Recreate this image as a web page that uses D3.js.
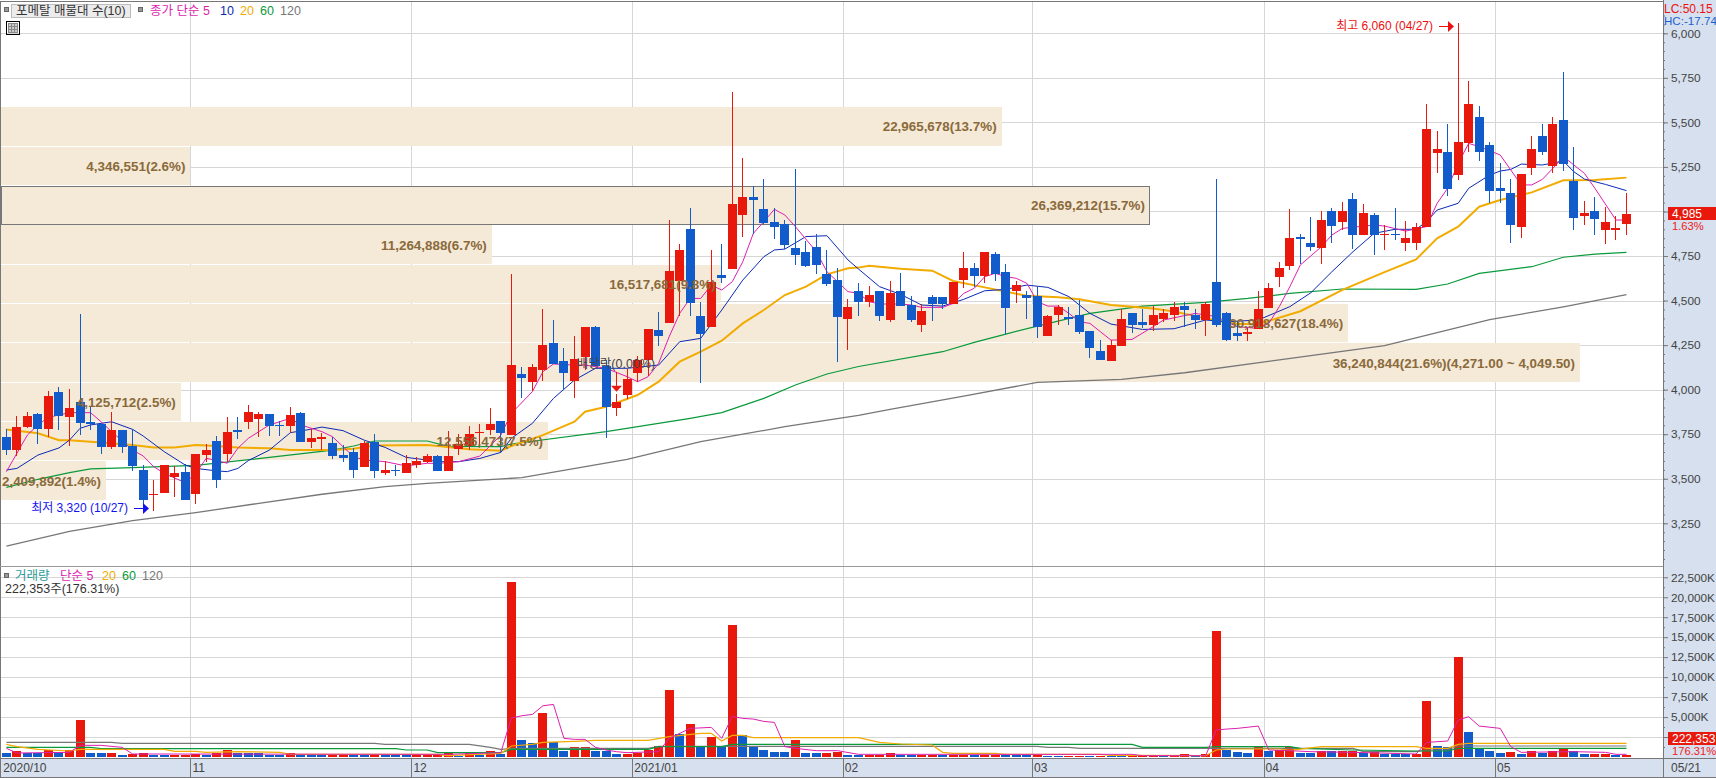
<!DOCTYPE html>
<html>
<head>
<meta charset="utf-8">
<script src="https://cdn.jsdelivr.net/npm/d3@7/dist/d3.min.js"></script>
<style>
html, body { margin: 0; padding: 0; background: #fff; overflow: hidden; }
svg { display: block; }
text { font-family: "Liberation Sans", "Noto Sans CJK KR", sans-serif; }
</style>
</head>
<body>
<div id="chart"></div>
<script>
const width = 1716, height = 778;

// daily prices (2020/10/06 ~ 2021/05/21)
const opens = [3735,3660,3790,3865,3780,3985,3845,3930,3820,3810,3680,3775,3685,3550,3410,3420,3510,3540,3415,3635,
  3710,3640,3775,3820,3835,3865,3800,3795,3870,3705,3725,3700,3635,3650,3565,3705,3530,3550,3530,3575,
  3595,3630,3545,3665,3685,3760,3775,3825,3745,4090,4045,4110,4260,4160,4050,4185,4350,4135,3895,3970,
  4095,4165,4335,4375,4610,4900,4415,4350,4645,4675,4980,5080,5015,4940,4930,4795,4775,4800,4650,4615,
  4395,4555,4490,4555,4390,4555,4475,4365,4520,4520,4480,4615,4685,4640,4760,4660,4555,4530,4525,4300,
  4420,4410,4420,4330,4215,4160,4245,4430,4380,4365,4395,4420,4470,4420,4390,4605,4430,4320,4310,4340,
  4460,4630,4695,4855,4825,4795,5005,4940,5070,4870,4980,4870,4875,4825,4825,4915,5330,5335,5205,5385,
  5530,5375,5130,5105,4915,5245,5425,5255,5515,5170,4975,5005,4895,4895,4930];
const highs = [3780,3850,3875,3870,3995,4015,4005,4425,3905,3815,3875,3775,3780,3575,3495,3575,3570,3585,3640,3695,
  3740,3845,3845,3915,3875,3865,3825,3905,3875,3780,3755,3735,3690,3675,3710,3750,3600,3575,3635,3620,
  3640,3635,3770,3750,3795,3810,3895,3825,4650,4125,4145,4455,4390,4235,4300,4350,4355,4165,3975,4115,
  4190,4340,4435,4950,4820,5020,4490,4785,4820,5670,5300,5145,5180,5020,4950,5240,4835,4875,4785,4685,
  4510,4600,4580,4555,4610,4655,4525,4480,4530,4520,4605,4770,4710,4770,4770,4705,4610,4555,4575,4420,
  4475,4465,4505,4330,4280,4280,4455,4430,4455,4470,4455,4490,4490,4455,4490,5180,4435,4380,4345,4555,
  4600,4715,5015,4875,4970,5005,5020,5055,5105,5040,4990,4925,5020,4945,4935,5605,5450,5490,6060,5730,
  5590,5390,5270,5180,5210,5425,5490,5530,5785,5360,5060,5080,5025,4975,5105];
const lows = [3635,3630,3785,3695,3735,3775,3685,3745,3775,3640,3665,3645,3545,3360,3320,3420,3400,3380,3360,3595,
  3450,3595,3725,3780,3735,3740,3740,3755,3705,3675,3660,3610,3595,3505,3565,3505,3520,3515,3530,3560,
  3590,3545,3545,3635,3660,3695,3745,3650,3745,3955,3990,4050,4145,4000,3955,4110,4130,3730,3850,3945,
  4045,4075,4245,4375,4415,4415,4035,4350,4600,4675,4855,4875,4930,4845,4790,4700,4690,4650,4580,4155,
  4220,4415,4465,4385,4380,4470,4380,4325,4385,4455,4480,4570,4575,4600,4610,4310,4485,4395,4290,4300,
  4365,4365,4310,4175,4165,4160,4245,4320,4345,4330,4380,4385,4350,4340,4300,4350,4275,4275,4275,4340,
  4460,4575,4670,4705,4780,4705,4825,4895,4790,4870,4755,4785,4840,4780,4785,4915,5215,5085,5175,5335,
  5285,5045,5045,4825,4850,5205,5315,5215,5225,4895,4925,4870,4815,4840,4870];
const closes = [3660,3790,3850,3780,3965,3850,3895,3815,3805,3680,3775,3680,3570,3380,3415,3575,3530,3380,3640,3660,
  3495,3760,3760,3875,3865,3795,3795,3860,3705,3730,3735,3630,3615,3550,3700,3545,3550,3545,3590,3600,
  3630,3545,3630,3695,3750,3765,3805,3755,4140,4065,4125,4250,4145,4095,4170,4350,4135,3905,3930,4060,
  4165,4340,4300,4665,4785,4485,4310,4605,4625,5040,5080,5065,4935,4915,4810,4755,4695,4700,4595,4410,
  4465,4490,4530,4415,4540,4470,4390,4440,4480,4480,4605,4685,4640,4770,4650,4460,4585,4515,4350,4415,
  4465,4395,4325,4235,4165,4250,4395,4365,4365,4420,4430,4465,4445,4390,4480,4365,4280,4300,4325,4455,
  4570,4685,4850,4845,4800,4950,4920,5005,4870,4990,4870,4875,4870,4850,4915,5465,5350,5125,5390,5605,
  5335,5115,5115,4925,5210,5350,5335,5490,5265,4965,4990,4960,4940,4905,4985];

// daily volume in thousands of shares
const volumes = [500,710,460,440,875,585,875,4625,500,480,500,250,375,500,290,210,250,290,375,250,
  540,875,540,460,440,250,240,540,290,250,240,300,310,260,210,270,250,240,230,240,
  250,260,540,170,460,290,750,375,21875,2125,1750,5500,1830,750,1210,1215,750,740,375,380,
  540,875,1375,8375,2875,4125,1210,2500,1375,16500,2750,1290,875,625,610,2125,500,490,500,670,
  250,240,250,255,500,250,240,250,255,240,250,255,240,250,255,240,230,220,250,170,
  160,170,180,125,130,120,110,115,125,130,120,125,375,170,375,15750,875,625,500,1250,
  750,875,1210,500,490,750,700,720,750,540,670,375,370,360,375,7000,1375,1210,12500,3125,
  1040,750,500,625,375,750,540,750,1000,750,375,380,385,200,222];

// moving averages as [day index, value]
const ma5 = [[0,3540],[2,3746],[3,3802],[4,3845],[6,3871],[8,3871],[9,3820],[10,3764],[12,3661],[13,3628],[14,3568],[15,3530],[17,3478],[18,3530],[19,3615],[20,3602],[21,3587],[22,3671],[23,3727],[25,3802],[27,3839],[28,3802],[30,3764],[31,3736],[33,3624],[34,3605],[36,3596],[38,3572],[40,3587],
  [41,3586],[43,3596],[45,3627],[47,3745],[48,3867],[50,3989],[51,4101],[52,4144],[54,4138],[55,4138],[57,4120],[59,4073],[60,4045],[61,4073],[62,4148],[63,4297],[64,4428],[65,4512],[66,4512],[67,4587],[68,4559],[69,4606],[70,4718],[71,4877],[72,4943],[73,5012],[74,4980],[75,4915],[77,4774],[78,4662],[80,4550],[81,4541],
  [82,4494],[83,4481],[85,4481],[86,4475],[87,4462],[89,4462],[90,4484],[91,4540],[92,4569],[93,4634],[94,4653],[95,4634],[96,4625],[97,4597],[98,4494],[99,4469],[100,4469],[101,4428],[102,4381],[103,4372],[104,4325],[105,4278],[107,4282],[109,4353],[110,4391],[113,4428],[115,4410],[117,4353],[119,4344],[120,4372],[121,4466],[122,4578],
  [123,4700],[125,4802],[126,4868],[127,4905],[130,4924],[131,4918],[133,4890],[135,4915],[136,5046],[137,5130],[138,5270],[139,5382],[140,5364],[142,5317],[143,5233],[144,5149],[145,5149],[146,5180],[147,5242],[148,5308],[150,5214],[151,5130],[153,4952],[154,4952]];
const ma10 = [[0,3549],[1,3558],[3,3633],[5,3673],[6,3717],[7,3783],[8,3802],[10,3820],[12,3777],[13,3740],[15,3652],[17,3577],[18,3558],[20,3544],[21,3540],[22,3558],[23,3602],[25,3661],[27,3759],[28,3768],[30,3790],[32,3770],[34,3717],[36,3676],[38,3620],[40,3605],
  [41,3596],[43,3596],[45,3614],[47,3648],[48,3727],[50,3811],[52,3951],[54,4054],[56,4120],[59,4120],[62,4138],[64,4269],[66,4288],[68,4447],[70,4615],[72,4746],[73,4784],[74,4789],[76,4859],[78,4864],[80,4728],[81,4677],
  [83,4578],[85,4535],[87,4475],[89,4469],[91,4507],[93,4555],[95,4563],[97,4587],[99,4574],[101,4522],[103,4428],[105,4368],[108,4338],[111,4342],[114,4391],[116,4381],[119,4391],[122,4466],
  [124,4544],[126,4662],[128,4774],[130,4877],[132,4900],[134,4900],[135,4943],[136,5008],[138,5046],[139,5130],[141,5205],[142,5227],[143,5236],[144,5266],[146,5261],[148,5283],[149,5223],[150,5182],[152,5152],[154,5117]];
const ma20 = [[0,3777],[3,3755],[5,3716],[6,3716],[9,3704],[12,3690],[14,3676],[16,3675],[18,3690],[20,3684],[22,3675],[25,3671],[27,3661],[31,3661],[33,3669],[35,3686],[40,3689],
  [41,3684],[44,3665],[47,3657],[48,3684],[51,3745],[54,3820],[55,3876],[57,3904],[60,3970],[62,4045],[64,4157],[66,4213],[68,4275],[70,4372],[72,4447],[74,4531],[76,4578],[78,4647],[80,4681],[81,4685],
  [82,4696],[85,4679],[88,4668],[90,4610],[93,4574],[95,4550],[97,4527],[100,4518],[102,4507],[105,4475],[109,4456],[111,4439],[114,4400],[117,4368],[119,4368],[123,4440],
  [127,4560],[131,4660],[134,4731],[136,4849],[138,4915],[140,5027],[142,5064],[145,5107],[148,5175],[151,5177],[154,5190]];
const ma60 = [[0,3452],[3,3497],[6,3534],[8,3555],[12,3562],[18,3575],[25,3620],[31,3661],[33,3684],[35,3712],[40,3712],[42,3682],[47,3680],[48,3695],
  [57,3764],[65,3839],[68,3871],[72,3951],[75,4026],[78,4088],[81,4130],[89,4213],[92,4265],[95,4312],[98,4357],[103,4428],[108,4469],[114,4490],[118,4512],[122,4540],
  [127,4565],[134,4563],[137,4593],[140,4653],[145,4690],[148,4743],[151,4761],[154,4771]];
const ma120 = [[0,3122],[6,3205],[12,3265],[18,3310],[24,3362],[30,3413],[36,3456],[40,3474],[49,3506],[59,3609],[66,3708],[74,3792],[81,3856],
  [84,3889],[91,3964],[98,4041],[106,4058],[112,4095],[121,4167],[131,4247],[141,4393],[148,4465],[154,4534]];

// volume averages, thousands of shares
const vol5 = [[0,1083],[1,500],[6,583],[7,1458],[9,1458],[11,1208],[12,375],[42,333],[47,542],[48,4875],[49,5167],[50,5333],[51,6417],[52,6583],[53,2333],[54,2208],[55,2208],[56,1208],[57,875],[58,667],[59,542],[62,667],[63,2333],[65,3583],[67,3708],[68,2333],[69,5083],[70,4833],[71,4750],[72,4458],[73,4333],[74,1292],[75,1083],[77,792],[79,792],[81,333],[107,333],[108,167],[114,167],[115,3375],[116,3500],[117,3583],[119,3875],[120,875],[122,792],[124,667],[128,583],[134,375],[135,1833],[137,2000],[138,4625],[139,5042],[140,3875],[142,3583],[143,1292],[144,583],[149,667],[152,583],[153,333],[154,333]];
const vol20 = [[0,1583],[1,1292],[3,958],[6,750],[7,958],[15,958],[16,708],[18,708],[19,583],[22,667],[26,583],[27,333],[41,333],[42,167],[47,458],[48,1375],[50,1583],[51,1833],[54,1958],[56,2083],[61,2083],[63,2542],[66,2958],[67,2958],[68,2000],[69,2708],[70,2708],[71,2417],[81,2417],[83,1833],[85,1625],[88,1500],[89,583],[90,458],[94,458],[95,333],[104,333],[105,208],[108,208],[114,167],[115,875],[116,1000],[121,1000],[122,833],[125,1292],[134,1292],[135,1083],[137,1083],[138,1583],[139,1708],[154,1708]];
const vol60 = [[0,1208],[8,1208],[9,1042],[37,1042],[38,875],[40,875],[41,542],[47,542],[48,958],[61,958],[62,1292],[68,1292],[69,1583],[107,1583],[108,1208],[114,1208],[115,1292],[122,1292],[123,1083],[128,875],[134,750],[137,750],[138,1083],[154,1083]];
const vol120 = [[0,1833],[10,1833],[11,1708],[35,1708],[36,1583],[44,1583],[46,1208],[47,958],[48,1083],[61,1083],[62,1333],[98,1333],[99,1208],[101,1208],[102,1083],[128,1083],[129,667],[134,667],[135,875],[137,875],[138,1375],[154,1375]];

// price volume bands, top to bottom
const bandEdges = [5585,5364,5143,4922,4701,4480,4260,4039,3818,3597,3377];
const bandVolumes = [22965678,4346551,26369212,11264888,16517681,30918627,36240844,4125712,12556473,2409892];
const bandLabels = ["22,965,678(13.7%)","4,346,551(2.6%)","26,369,212(15.7%)","11,264,888(6.7%)","16,517,681(9.8%)",
  "30,918,627(18.4%)","36,240,844(21.6%)(4,271.00 ~ 4,049.50)","4,125,712(2.5%)","12,556,473(7.5%)","2,409,892(1.4%)"];
const currentBand = 2;

const monthStarts = [0,18,39,60,80,98,120,142];
const monthLabels = ["2020/10","11","12","2021/01","02","03","04","05"];
const priceTicks = [3250,3500,3750,4000,4250,4500,4750,5000,5250,5500,5750,6000];
const volumeTicks = [2500,5000,7500,10000,12500,15000,17500,20000,22500];

const RED = "#e8190c", BLUE = "#125bca", PINK = "#dd1fb0", NAVY = "#0a2ab5",
  ORANGE = "#f2ab00", GREEN = "#0a9a3c", GRAY = "#777", GRID = "#d6d6d6",
  PANEL = "#d6e0ee", PEACH = "#f5e9d8", BROWN = "#8a6a3a";

const plotRight = 1663, mainTop = 2, mainBottom = 566, dateTop = 758, dateBottom = 777;

const x = d3.scaleBand().domain(d3.range(opens.length)).range([1.14, 1631.74]);
const y = d3.scaleLinear().domain([6000, 3250]).range([33.3, 523.3]);
const yVol = d3.scaleLinear().domain([0, 22500]).range([757, 577.3]);
const bandX = d3.scaleLinear().domain([0, 36240844]).range([1, 1580]);

const cx = i => Math.floor(x(i) + x.bandwidth() / 2);

const svg = d3.select("#chart").append("svg")
  .attr("width", width)
  .attr("height", height)
  .attr("viewBox", [0, 0, width, height]);

// gridlines
const grid = svg.append("g").attr("stroke", GRID).attr("shape-rendering", "crispEdges");
grid.selectAll(".gp").data(priceTicks).join("line")
  .attr("x1", 1).attr("x2", plotRight)
  .attr("y1", d => Math.round(y(d)) + .5).attr("y2", d => Math.round(y(d)) + .5);
grid.selectAll(".gv").data(volumeTicks).join("line")
  .attr("x1", 1).attr("x2", plotRight)
  .attr("y1", d => Math.round(yVol(d)) + .5).attr("y2", d => Math.round(yVol(d)) + .5);
grid.selectAll(".gm").data(monthStarts.slice(1)).join("line")
  .attr("x1", d => Math.round(x(d)) + .5).attr("x2", d => Math.round(x(d)) + .5)
  .attr("y1", mainTop).attr("y2", dateTop);

// price volume bands sit on the grid, below the candles
const bands = bandVolumes.map((v, i) => ({v, i, label: bandLabels[i], top: y(bandEdges[i]), bottom: y(bandEdges[i + 1])}));
svg.append("g").attr("shape-rendering", "crispEdges")
  .selectAll("rect").data(bands).join("rect")
  .attr("x", 1)
  .attr("y", d => Math.round(d.top))
  .attr("width", d => bandX(d.v) - 1)
  .attr("height", d => Math.round(d.bottom) - Math.round(d.top) - 1)
  .attr("fill", PEACH)
  .attr("stroke", d => d.i === currentBand ? GRAY : "none");

// moving average lines
const lineMain = d3.line().x(d => x(d[0]) + x.bandwidth() / 2).y(d => y(d[1]));
[[ma120, GRAY, 1.3], [ma60, GREEN, 1.2], [ma20, ORANGE, 2], [ma10, NAVY, 1], [ma5, PINK, 1]].forEach(s => {
  svg.append("path").datum(s[0])
    .attr("fill", "none").attr("stroke", s[1]).attr("stroke-width", s[2])
    .attr("d", lineMain);
});

// candles
const days = d3.range(opens.length);
const candle = svg.append("g").attr("shape-rendering", "crispEdges")
  .selectAll("g").data(days).join("g")
  .attr("fill", i => closes[i] >= opens[i] ? RED : BLUE);
candle.append("rect")
  .attr("x", cx).attr("width", 1)
  .attr("y", i => Math.round(y(highs[i])))
  .attr("height", i => Math.max(1, Math.round(y(lows[i])) - Math.round(y(highs[i]))));
candle.append("rect")
  .attr("x", i => cx(i) - 4).attr("width", 9)
  .attr("y", i => Math.round(y(Math.max(opens[i], closes[i]))))
  .attr("height", i => Math.max(1, Math.round(y(Math.min(opens[i], closes[i]))) - Math.round(y(Math.max(opens[i], closes[i])))));

// volume bars: red when volume rose on the day before
svg.append("g").attr("shape-rendering", "crispEdges")
  .selectAll("rect").data(days).join("rect")
  .attr("x", i => cx(i) - 4).attr("width", 9)
  .attr("y", i => Math.round(yVol(volumes[i])))
  .attr("height", i => Math.max(1, Math.round(yVol(0)) - Math.round(yVol(volumes[i]))))
  .attr("fill", i => i > 0 && volumes[i] >= volumes[i - 1] ? RED : BLUE);

const lineVol = d3.line().x(d => x(d[0]) + x.bandwidth() / 2).y(d => yVol(d[1]));
[[vol120, GRAY, 1.2], [vol60, GREEN, 1.2], [vol20, ORANGE, 1.2], [vol5, PINK, 1]].forEach(s => {
  svg.append("path").datum(s[0])
    .attr("fill", "none").attr("stroke", s[1]).attr("stroke-width", s[2])
    .attr("d", lineVol);
});

// band labels are drawn over the candles
svg.append("g").selectAll("text").data(bands).join("text")
  .attr("x", d => bandX(d.v) - 5)
  .attr("y", d => (d.top + d.bottom) / 2 + 4.5)
  .attr("text-anchor", "end")
  .attr("fill", BROWN)
  .attr("font-size", 13.4)
  .attr("font-weight", "bold")
  .text(d => d.label);

// high / low notes
function note(i, price, label, color, dy) {
  const tip = cx(i) - 4, py = Math.round(y(price)) + dy;
  svg.append("text").attr("x", tip - 21).attr("y", py + 4).attr("text-anchor", "end")
    .attr("fill", color).attr("font-size", 12).text(label);
  svg.append("line").attr("x1", tip - 15).attr("x2", tip - 4).attr("y1", py + .5).attr("y2", py + .5)
    .attr("stroke", color);
  svg.append("path").attr("d", `M${tip},${py + .5}L${tip - 6},${py - 5}L${tip - 6},${py + 6}Z`).attr("fill", color);
}
note(138, 6060, "최고 6,060 (04/27)", "#ee0f0f", 3);
note(14, 3320, "최저 3,320 (10/27)", "#1212ee", -3);

// ex-dividend marker
const exDay = 58, exPrice = 4100;
svg.append("rect").attr("x", cx(exDay)).attr("width", 1)
  .attr("y", y(exPrice)).attr("height", 14).attr("fill", RED);
svg.append("path")
  .attr("d", `M${cx(exDay) - 5},${y(exPrice) + 14}h11l-5.5,6Z`)
  .attr("fill", RED);
svg.append("text").attr("x", cx(exDay)).attr("y", y(exPrice) - 4).attr("text-anchor", "middle")
  .attr("fill", "#444").attr("font-size", 12.5).text("배당락(0.00%)");

// right and bottom panels
svg.append("rect").attr("x", plotRight).attr("y", 0).attr("width", width - plotRight).attr("height", height).attr("fill", PANEL);
svg.append("rect").attr("x", 0).attr("y", dateTop).attr("width", width).attr("height", dateBottom - dateTop).attr("fill", PANEL);

const frame = svg.append("g").attr("stroke", GRAY).attr("shape-rendering", "crispEdges");
frame.append("line").attr("x1", 0).attr("x2", plotRight).attr("y1", 1.5).attr("y2", 1.5);
frame.append("line").attr("x1", .5).attr("x2", .5).attr("y1", 1).attr("y2", dateBottom);
frame.append("line").attr("x1", 0).attr("x2", plotRight).attr("y1", mainBottom + .5).attr("y2", mainBottom + .5).attr("stroke", "#999");
frame.append("line").attr("x1", plotRight + .5).attr("x2", plotRight + .5).attr("y1", 0).attr("y2", dateBottom);
frame.append("line").attr("x1", 0).attr("x2", width).attr("y1", dateTop + .5).attr("y2", dateTop + .5);
frame.append("line").attr("x1", 0).attr("x2", width).attr("y1", dateBottom + .5).attr("y2", dateBottom + .5);

// date axis
const dates = svg.append("g");
dates.selectAll("line").data(monthStarts.slice(1)).join("line")
  .attr("x1", d => Math.round(x(d)) + .5).attr("x2", d => Math.round(x(d)) + .5)
  .attr("y1", dateTop).attr("y2", dateBottom)
  .attr("stroke", GRAY).attr("shape-rendering", "crispEdges");
dates.selectAll("text").data(monthStarts).join("text")
  .attr("x", d => x(d) + 2)
  .attr("y", 772)
  .attr("fill", "#444").attr("font-size", 12)
  .text((d, i) => monthLabels[i]);
dates.append("text").attr("x", 1671).attr("y", 772).attr("fill", "#444").attr("font-size", 12).text("05/21");

// value axes
function styleAxis(g) {
  g.select(".domain").remove();
  g.selectAll("line").attr("stroke", GRAY);
  g.selectAll("text").attr("fill", "#444").attr("font-size", 11.8)
    .attr("font-family", '"Liberation Sans", sans-serif');
}
svg.append("g").attr("transform", `translate(${plotRight},0)`)
  .call(d3.axisRight(y).tickValues(d3.range(3050, 6101, 50)).tickSize(2).tickFormat(""))
  .call(styleAxis);
svg.append("g").attr("transform", `translate(${plotRight},0)`)
  .call(d3.axisRight(y).tickValues(priceTicks).tickSize(5).tickPadding(3).tickFormat(d3.format(",")))
  .call(styleAxis);
svg.append("g").attr("transform", `translate(${plotRight},0)`)
  .call(d3.axisRight(yVol).tickValues(d3.range(1250, 23000, 2500)).tickSize(2).tickFormat(""))
  .call(styleAxis);
svg.append("g").attr("transform", `translate(${plotRight},0)`)
  .call(d3.axisRight(yVol).tickValues(volumeTicks).tickSize(5).tickPadding(3).tickFormat(d => d3.format(",")(d) + "K"))
  .call(styleAxis);

// current value tags
function tag(yTop, label, sub) {
  svg.append("rect").attr("x", 1668).attr("y", yTop).attr("width", width - 1668).attr("height", 13).attr("fill", RED);
  svg.append("text").attr("x", 1672).attr("y", yTop + 11).attr("fill", "#fff").attr("font-size", 12).text(label);
  svg.append("text").attr("x", 1672).attr("y", yTop + 22.5).attr("fill", "#ee2020").attr("font-size", 11.2).text(sub);
}
tag(207, "4,985", "1.63%");
tag(732, "222,353", "176.31%");

svg.append("text").attr("x", 1664).attr("y", 13).attr("fill", "#ee1010").attr("font-size", 12).text("LC:50.15");
svg.append("text").attr("x", 1664).attr("y", 25).attr("fill", "#1a5fd0").attr("font-size", 11.6).text("HC:-17.74");

// legends
function legend(items, yText) {
  items.forEach(d => {
    svg.append("text").attr("x", d[0]).attr("y", yText).attr("fill", d[2]).attr("font-size", 12.5).text(d[1]);
  });
}
function square(px, py) {
  svg.append("rect").attr("x", px + .5).attr("y", py + .5).attr("width", 4).attr("height", 4)
    .attr("fill", "#999").attr("stroke", "#666").attr("shape-rendering", "crispEdges");
}
square(4, 7);
svg.append("rect").attr("x", 11.5).attr("y", 4.5).attr("width", 119).attr("height", 13)
  .attr("fill", "#ececec").attr("stroke", "#bbb").attr("shape-rendering", "crispEdges");
square(138, 7);
legend([[16, "포메탈 매물대 수(10)", "#333"], [150, "종가 단순 5", PINK], [220, "10", NAVY], [240, "20", ORANGE], [260, "60", GREEN], [280, "120", GRAY]], 15);

// table icon
const icon = svg.append("g").attr("shape-rendering", "crispEdges").attr("fill", "none");
icon.append("rect").attr("x", 6.5).attr("y", 21.5).attr("width", 13).attr("height", 13).attr("stroke", "#000");
icon.append("rect").attr("x", 8.5).attr("y", 23.5).attr("width", 9).attr("height", 9).attr("stroke", "#888").attr("fill", "#ccc");
d3.range(3).forEach(k => {
  icon.append("line").attr("x1", 11.5 + k * 3).attr("x2", 11.5 + k * 3).attr("y1", 24).attr("y2", 32).attr("stroke", "#888");
});
icon.append("line").attr("x1", 9).attr("x2", 17).attr("y1", 26.5).attr("y2", 26.5).attr("stroke", "#888");
icon.append("line").attr("x1", 9).attr("x2", 17).attr("y1", 29.5).attr("y2", 29.5).attr("stroke", "#888");

square(4, 573);
legend([[15, "거래량", "#2a9a9a"], [60, "단순 5", PINK], [102, "20", ORANGE], [122, "60", GREEN], [142, "120", GRAY]], 580);
legend([[5, "222,353주(176.31%)", "#333"]], 593);
</script>
</body>
</html>
